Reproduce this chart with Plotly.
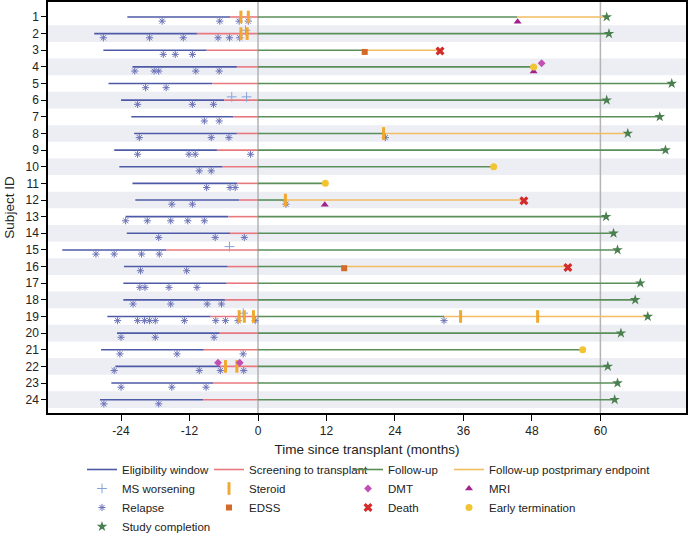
import plotly.graph_objects as go

# ---------------- data ----------------
subjects = list(range(1, 25))
elig_start = [-22.9, -28.7, -27.1, -22.0, -26.2, -24.0, -22.2, -21.7, -25.2, -24.3, -22.0, -21.5,
              -23.2, -23.0, -34.3, -23.5, -23.6, -23.6, -26.4, -24.7, -27.5, -25.0, -25.7, -27.7]
screen_start = [-4.9, -10.7, -9.0, -3.7, -8.0, -5.9, -4.3, -3.7, -7.2, -6.2, -3.6, -3.3,
                -5.2, -4.9, -16.1, -5.3, -5.5, -5.8, -8.3, -6.7, -9.5, -6.6, -7.8, -9.6]
followup_end = [45.4, 61.5, 18.7, 48.3, 72.5, 61.1, 70.4, 22.0, 71.4, 41.3, 11.8, 4.8,
                61.0, 62.3, 63.0, 15.1, 67.0, 66.1, 32.6, 63.6, 56.9, 61.3, 63.0, 62.5]
postprimary_end = [61.1, None, 31.9, None, None, None, None, 64.8, None, None, None, 46.6,
                   None, None, None, 54.3, None, None, 68.3, None, None, None, None, None]

relapse_subject = [1, 1, 1, 1, 2, 2, 2, 2, 2, 2, 3, 3, 3, 4, 4, 4, 4, 4, 5, 5, 6, 6, 6, 7, 7,
                   8, 8, 8, 8, 9, 9, 9, 9, 10, 10, 11, 11, 11, 12, 12, 12,
                   13, 13, 13, 13, 13, 14, 14, 14, 15, 15, 15, 15, 16, 16, 17, 17, 17, 17,
                   18, 18, 18, 18, 19, 19, 19, 19, 19, 19, 19, 19, 19, 19, 19,
                   20, 20, 20, 21, 21, 21, 22, 22, 22, 22, 23, 23, 23, 24, 24]
relapse_month = [-16.8, -6.7, -3.3, -1.7, -27.1, -19.0, -13.1, -7.0, -5.0, -3.2,
                 -16.6, -14.5, -11.5, -21.6, -18.2, -17.4, -10.9, -6.8, -19.7, -16.1,
                 -21.1, -11.5, -7.8, -9.4, -6.8, -20.8, -8.2, -5.1, 22.3,
                 -21.1, -12.1, -11.0, -1.3, -10.3, -8.2, -9.0, -4.9, -4.0, -15.1, -11.5, 4.9,
                 -23.2, -19.4, -15.3, -12.3, -9.4, -17.4, -7.5, -2.4,
                 -28.4, -25.2, -20.4, -17.3, -20.6, -12.5, -20.7, -19.8, -15.6, -10.7,
                 -21.9, -15.3, -8.9, -6.4,
                 -24.6, -21.1, -19.9, -19.0, -18.0, -12.9, -7.4, -5.7, -3.5, -0.5, 32.6,
                 -24.0, -18.0, -7.7, -24.2, -14.2, -2.6, -25.2, -10.3, -6.6, -2.5,
                 -24.0, -15.1, -9.1, -27.0, -17.4]

steroid_subject = [1, 1, 2, 2, 8, 12, 19, 19, 19, 19, 19, 22, 22]
steroid_month = [-3.0, -1.7, -3.0, -1.9, 22.0, 4.8, -3.3, -2.4, -0.8, 35.5, 49.0, -5.7, -3.7]

msw_subject = [2, 6, 6, 15, 19]
msw_month = [-2.2, -4.6, -2.0, -5.0, -2.6]

dmt_subject = [4, 22, 22]
dmt_month = [49.7, -7.0, -3.2]

mri_subject = [1, 4, 12]
mri_month = [45.5, 48.3, 11.7]

edss_subject = [3, 16]
edss_month = [18.7, 15.1]

death_subject = [3, 12, 16]
death_month = [31.9, 46.6, 54.3]

early_subject = [4, 10, 11, 21]
early_month = [48.3, 41.3, 11.8, 56.9]

complete_subject = [1, 2, 5, 6, 7, 8, 9, 13, 14, 15, 17, 18, 19, 20, 22, 23, 24]
complete_month = [61.1, 61.5, 72.5, 61.1, 70.4, 64.8, 71.4, 61.0, 62.3, 63.0, 67.0, 66.1,
                  68.3, 63.6, 61.3, 63.0, 62.5]

x_ticks = [-24, -12, 0, 12, 24, 36, 48, 60]
ref_lines = [0, 60]

# ---------------- styles ----------------
C_ELIG = "#4f5aa6"
C_SCREEN = "#e8787f"
C_FU = "#5a8f5a"
C_POST = "#f2bc60"
FONT = "Liberation Sans"


def segments(starts, ends, ys):
    xs, yy = [], []
    for s, e, y in zip(starts, ends, ys):
        if s is None or e is None:
            continue
        xs += [s, e, None]
        yy += [y, y, None]
    return xs, yy


fig = go.Figure()

zeros = [0] * len(subjects)
for name, st, en, col, lg in [
    ("Eligibility window", elig_start, screen_start, C_ELIG, "legend"),
    ("Screening to transplant", screen_start, zeros, C_SCREEN, "legend2"),
    ("Follow-up", zeros, followup_end, C_FU, "legend3"),
    ("Follow-up postprimary endpoint", followup_end, postprimary_end, C_POST, "legend4"),
]:
    xs, ys = segments(st, en, subjects)
    fig.add_trace(go.Scatter(x=xs, y=ys, mode="lines", name=name, legend=lg,
                             line=dict(color=col, width=1.6), hoverinfo="skip"))


def add_markers(name, xs, subj, dy, symbol, color, size, lg, line_w=0):
    fig.add_trace(go.Scatter(
        x=xs, y=[s + dy for s in subj], mode="markers", name=name, legend=lg,
        marker=dict(symbol=symbol, color=color, size=size,
                    line=dict(width=line_w, color=color))))


add_markers("MS worsening", msw_month, msw_subject, -0.2, "cross-thin-open", "#86a3d8", 7, "legend", 1)
add_markers("Relapse", relapse_month, relapse_subject, 0.25, "asterisk-open", "#6b72b8", 6, "legend", 1)
add_markers("Steroid", steroid_month, steroid_subject, 0, "line-ns-open", "#f0a830", 9, "legend2", 3)
add_markers("EDSS", edss_month, edss_subject, 0.1, "square", "#d4692a", 6, "legend2")
add_markers("DMT", dmt_month, dmt_subject, -0.22, "diamond", "#c24fb2", 6, "legend3")
add_markers("Death", death_month, death_subject, 0.05, "x", "#d42a2a", 8, "legend3")
add_markers("MRI", mri_month, mri_subject, 0.28, "triangle-up", "#a0228c", 7, "legend4")
add_markers("Early termination", early_month, early_subject, 0, "circle", "#f2c433", 7, "legend4")
add_markers("Study completion", complete_month, complete_subject, 0, "star", "#4a7f4f", 8, "legend")

# bands and reference lines
shapes = []
for s in subjects:
    if s % 2 == 0:
        shapes.append(dict(type="rect", xref="paper", yref="y", x0=0, x1=1, y0=s - 0.5, y1=s + 0.5,
                           fillcolor="#eceef4", line=dict(width=0), layer="below"))
for r in ref_lines:
    shapes.append(dict(type="line", xref="x", yref="paper", x0=r, x1=r, y0=0, y1=1,
                       line=dict(color="#b3b3b3", width=1.5), layer="below"))

# plot area: x 48..686, y 2..413 (height 411)
PL, PW, PB, PH = 48, 638, 413, 411


def lx(px):
    return (px - PL) / PW


ly = (PB - 455) / PH

legend_common = dict(orientation="v", yanchor="top", xanchor="left", y=ly,
                     font=dict(family=FONT, size=11.5, color="#222"),
                     bgcolor="rgba(0,0,0,0)", itemwidth=30, tracegroupgap=0)

fig.update_layout(
    width=689, height=535,
    margin=dict(l=48, r=3, t=2, b=122, autoexpand=False),
    paper_bgcolor="white", plot_bgcolor="white",
    font=dict(family=FONT, size=12, color="#222"),
    shapes=shapes,
    showlegend=True,
    legend=dict(x=lx(82), **legend_common),
    legend2=dict(x=lx(209), **legend_common),
    legend3=dict(x=lx(348), **legend_common),
    legend4=dict(x=lx(449), **legend_common),
    xaxis=dict(range=[-36.8, 75], tickvals=x_ticks, ticktext=[str(v) for v in x_ticks],
               showgrid=False, zeroline=False, showline=True, mirror=True, automargin=False,
               linecolor="black", linewidth=1.5, ticks="outside", ticklen=6,
               tickcolor="black", tickfont=dict(size=12, family=FONT),
               title=dict(text="Time since transplant (months)", font=dict(size=13.5, family=FONT),
                          standoff=7)),
    yaxis=dict(range=[24.8, 0.1], tickvals=subjects, ticktext=[str(s) for s in subjects],
               showgrid=False, zeroline=False, showline=True, mirror=True, automargin=False,
               linecolor="black", linewidth=1.5, ticks="outside", ticklen=5,
               tickcolor="black", tickfont=dict(size=12, family=FONT),
               title=dict(text="Subject ID", font=dict(size=13.5, family=FONT), standoff=8)),
)

fig.write_html("out.html", config={"displayModeBar": False},
               post_script="document.body.style.margin='0px';")
